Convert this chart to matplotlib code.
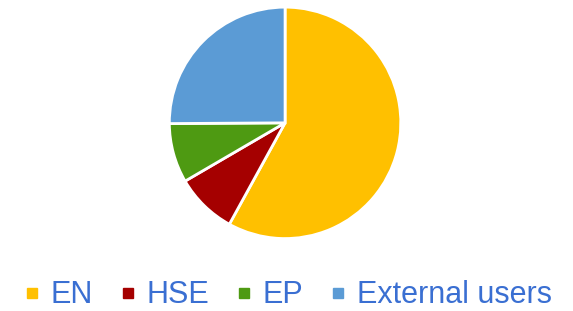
import matplotlib.pyplot as plt
from matplotlib.lines import Line2D

labels = ["EN", "HSE", "EP", "External users"]
shares = [58, 8.6, 8.3, 25.1]
colors = ["#FFC000", "#A50000", "#4E9A12", "#5B9BD5"]

fig = plt.figure(figsize=(5.73, 3.11), dpi=100)
ax = fig.add_axes([0.2915, 0.225, 0.412, 0.76])
ax.pie(shares, colors=colors, startangle=90, counterclock=False,
       wedgeprops=dict(edgecolor="white", linewidth=2))
ax.set_xlim(-1.02, 1.02)
ax.set_ylim(-1.02, 1.02)
ax.set_aspect("equal")

handles = [Line2D([], [], marker="s", linestyle="none", markersize=7,
                  markerfacecolor=c, markeredgecolor=c) for c in colors]
leg = fig.legend(handles, labels, loc="center", bbox_to_anchor=(0.503, 0.05),
                 ncol=4, frameon=False, handlelength=0.5,
                 handletextpad=0.35, columnspacing=0.9, borderpad=0,
                 prop={"family": "Liberation Sans", "size": 22})
for t in leg.get_texts():
    t.set_color("#3A6FD2")

fig.savefig("out.png", dpi=100)
